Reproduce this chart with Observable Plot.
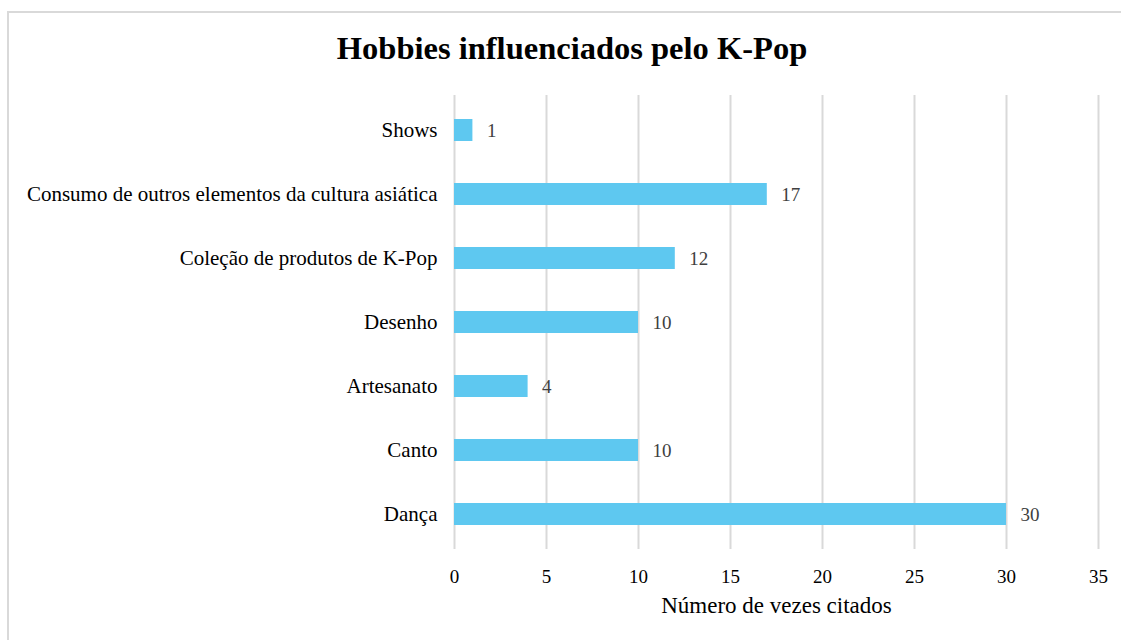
<!DOCTYPE html>
<html>
<head>
<meta charset="utf-8">
<script src="https://cdn.jsdelivr.net/npm/d3@7"></script>
<script src="https://cdn.jsdelivr.net/npm/@observablehq/plot@0.6"></script>
<style>
  html, body { margin: 0; padding: 0; background: #fff; }
  body { width: 1121px; height: 640px; position: relative; overflow: hidden; font-family: "Liberation Serif", "DejaVu Serif", serif; }
  #border { position: absolute; left: 7px; top: 11px; width: 1140px; height: 660px; border: 2px solid #d9d9d9; box-sizing: border-box; }
  #title { position: absolute; left: 7px; width: 1130px; top: 28px; line-height: 40px; text-align: center; font-size: 32.5px; font-weight: bold; color: #000; }
  #chart { position: absolute; left: 0; top: 0; }
</style>
</head>
<body>
<div id="border"></div>
<div id="title">Hobbies influenciados pelo K-Pop</div>
<div id="chart"></div>
<script>
const categories = ["Shows", "Consumo de outros elementos da cultura asiática", "Coleção de produtos de K-Pop", "Desenho", "Artesanato", "Canto", "Dança"];
const values = [1, 17, 12, 10, 4, 10, 30];
const xTicks = [0, 5, 10, 15, 20, 25, 30, 35];

const data = categories.map((c, i) => ({category: c, value: values[i]}));

const chart = Plot.plot({
  width: 1121,
  height: 640,
  marginLeft: 454,
  marginRight: 23,
  marginTop: 95,
  marginBottom: 91,
  style: {fontFamily: "'Liberation Serif', serif", background: "transparent"},
  x: {domain: [0, 35], ticks: xTicks, label: null},
  y: {domain: categories, padding: 0, label: null},
  marks: [
    Plot.ruleX(xTicks, {stroke: "#d9d9d9", strokeWidth: 2}),
    Plot.barX(data, {x: "value", y: "category", fill: "#5EC8F0", insetTop: 21, insetBottom: 21}),
    Plot.text(data, {x: "value", y: "category", text: d => String(d.value), textAnchor: "start", dx: 14, fill: "#404040", fontSize: 19}),
    Plot.axisX({ticks: xTicks, tickSize: 0, tickPadding: 20, fontSize: 19, fill: "#000", label: null}),
    Plot.axisY({tickSize: 0, tickPadding: 17, fontSize: 21, fill: "#000", label: null}),
    Plot.text(["Número de vezes citados"], {frameAnchor: "bottom", dy: 63, fontSize: 23, fill: "#000"})
  ]
});
document.getElementById("chart").appendChild(chart);
</script>
</body>
</html>
